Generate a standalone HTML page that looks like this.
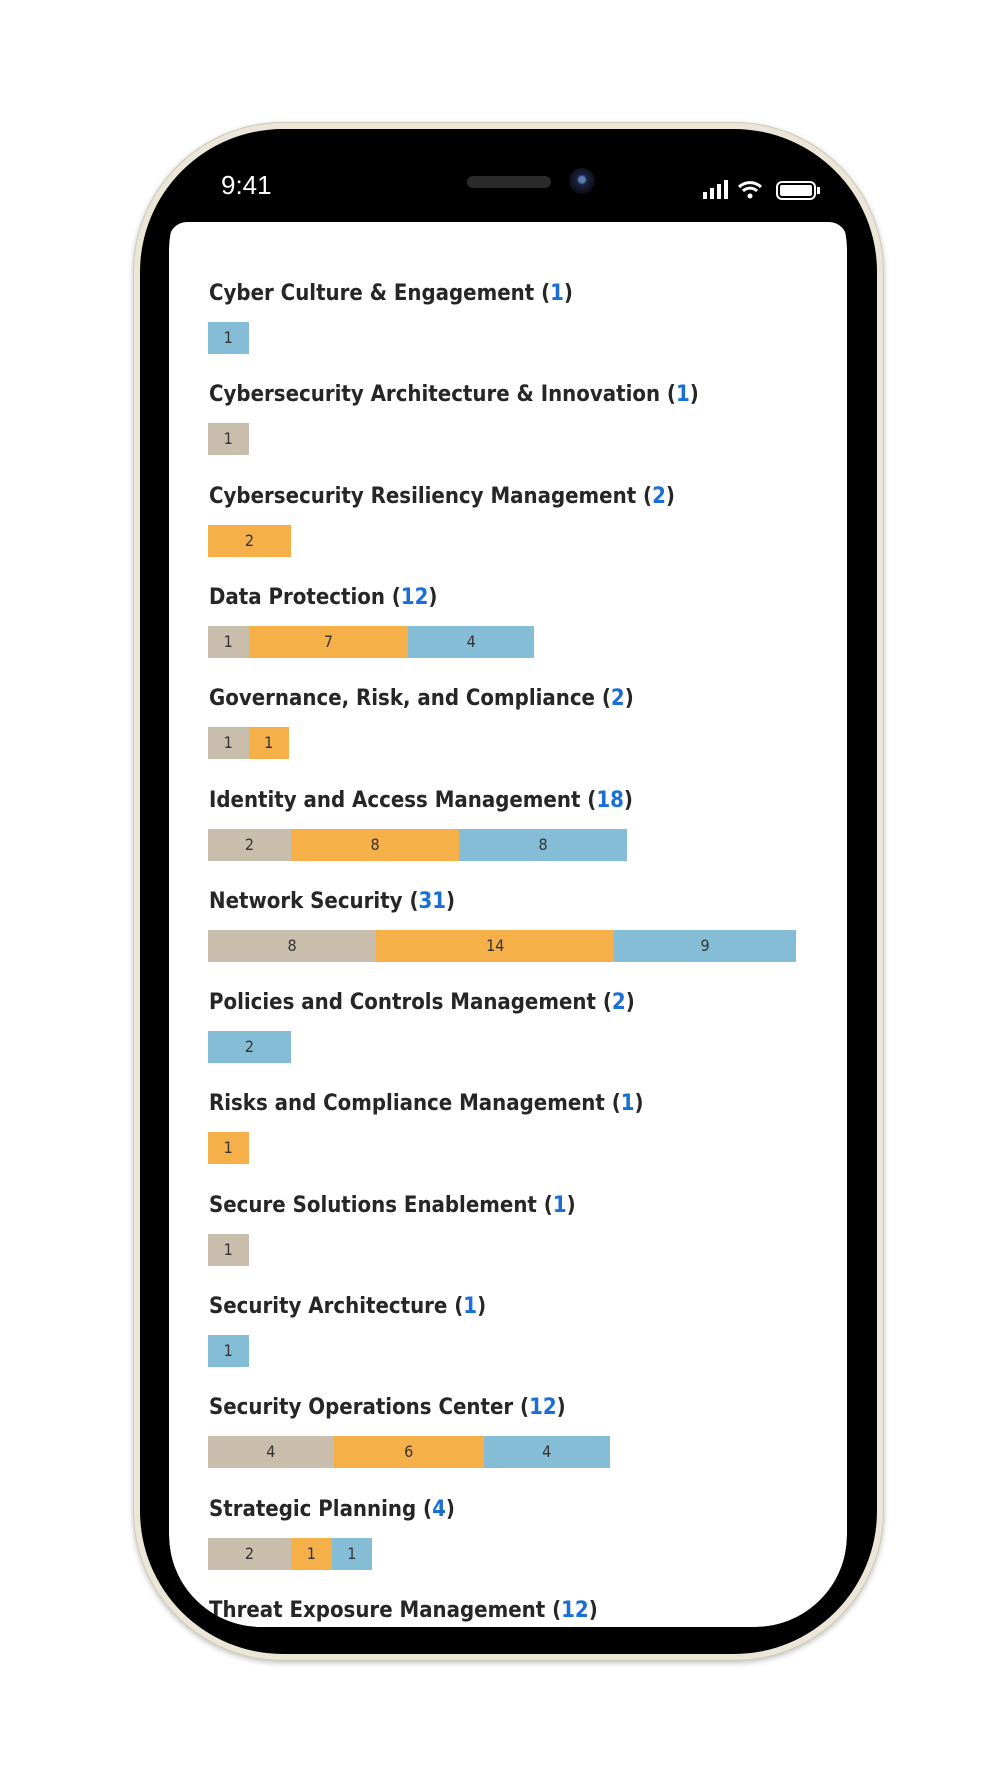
<!DOCTYPE html>
<html><head><meta charset="utf-8"><style>
html,body{margin:0;padding:0;background:#fff;}
body{width:992px;height:1766px;position:relative;overflow:hidden;font-family:"DejaVu Sans Condensed","DejaVu Sans","Liberation Sans",sans-serif;}
.phone{position:absolute;left:133px;top:122px;width:751px;height:1539px;border-radius:150px;background:#ebe6d8;box-shadow:0 0 0 1px #cfc9b8 inset,0 2px 6px rgba(0,0,0,.25);}
.body{position:absolute;left:7px;top:7px;right:7px;bottom:7px;border-radius:143px;background:#000;}
.screen{position:absolute;left:169px;top:158px;width:678px;height:1469px;border-radius:92px;background:#000;overflow:hidden;}
.content{position:absolute;left:0;top:64px;width:678px;height:1405px;background:#fff;border-radius:18px 18px 92px 92px;overflow:hidden;}
.time{position:absolute;left:52px;top:12px;color:#fff;font-family:"Liberation Sans",sans-serif;font-size:26px;}
.speaker{position:absolute;left:298px;top:18px;width:84px;height:12px;border-radius:6px;background:#2a2a2a;}
.cam{position:absolute;left:400px;top:10px;width:26px;height:26px;border-radius:50%;background:radial-gradient(circle at 50% 45%,#5a7bb0 0 3px,#1b2340 5px,#0d0f18 13px);}
.title{position:absolute;left:40px;font-size:22px;font-weight:bold;color:#262626;white-space:nowrap;line-height:24px;}
.title .n{color:#1a6fd6;}
.bar{position:absolute;height:32px;}
.seg{position:absolute;top:0;height:32px;font-size:16px;color:#333;text-align:center;line-height:32px;}
</style></head><body>
<div class="phone"><div class="body"></div></div>
<div class="screen">
  <div class="time">9:41</div>
  <div class="speaker"></div>
  <div class="cam"></div>
  <svg style="position:absolute;left:534px;top:20px" width="130" height="26" viewBox="0 0 130 26">
    <rect x="0" y="14" width="4" height="7" fill="#fff"/><rect x="7" y="10" width="4" height="11" fill="#fff"/><rect x="14" y="6" width="4" height="15" fill="#fff"/><rect x="21" y="2" width="4" height="19" fill="#fff"/>
    <path d="M36 9 a16 16 0 0 1 22 0" stroke="#fff" stroke-width="3" fill="none"/><path d="M40 13 a10 10 0 0 1 14 0" stroke="#fff" stroke-width="3" fill="none"/><circle cx="47" cy="18" r="2.5" fill="#fff"/>
    <rect x="74" y="4" width="38" height="17" rx="5" stroke="#fff" stroke-width="2" fill="none"/><rect x="77" y="7" width="32" height="11" rx="2" fill="#fff"/><rect x="114" y="9" width="3" height="7" fill="#fff"/>
  </svg>
  <div class="content" id="content"></div>
</div>
<script>
const categories=["Cyber Culture & Engagement","Cybersecurity Architecture & Innovation","Cybersecurity Resiliency Management","Data Protection","Governance, Risk, and Compliance","Identity and Access Management","Network Security","Policies and Controls Management","Risks and Compliance Management","Secure Solutions Enablement","Security Architecture","Security Operations Center","Strategic Planning","Threat Exposure Management"];
const totals=[1,1,2,12,2,18,31,2,1,1,1,12,4,12];
const seriesBeige=[0,1,0,1,1,2,8,0,0,1,0,4,2,4];
const seriesOrange=[0,0,2,7,1,8,14,0,1,0,0,6,1,4];
const seriesBlue=[1,0,0,4,0,8,9,2,0,0,1,4,1,4];
const colors=["#c9bdab","#f5b04a","#85bdd7"];
function wScale(n){return 40.5*(1+1.05*Math.log2(n))+(n>8?6*(n-8):0);}
function rowY(i){return 60+i*101.3;}
const c=document.getElementById('content');
categories.forEach((cat,i)=>{
  const vals=[seriesBeige[i],seriesOrange[i],seriesBlue[i]];
  const t=document.createElement('div');
  t.className='title';
  
  
  t.style.top=rowY(i)+'px';
  t.innerHTML=cat.replace(/&/g,'&amp;')+' (<span class="n">'+totals[i]+'</span>)';
  c.appendChild(t);
  const b=document.createElement('div');
  b.className='bar';
  
  
  b.style.top=(rowY(i)+40)+'px';b.style.left='39px';
  let x=0;
  vals.forEach((v,k)=>{
    if(!v)return;
    const s=document.createElement('div');
    s.className='seg';
    
    
    const w=wScale(v);
    s.style.left=x+'px';s.style.width=w+'px';s.style.background=colors[k];
    s.textContent=v;
    b.appendChild(s);x+=w;
  });
  c.appendChild(b);
});
</script>
</body></html>
